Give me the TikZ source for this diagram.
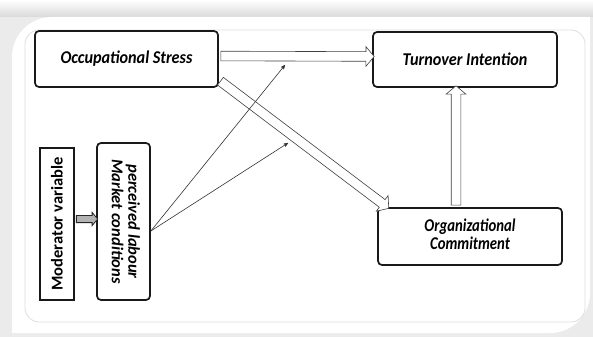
\documentclass[tikz,border=0pt]{standalone}
\usepackage{fontspec}
\setmainfont{Carlito}
\usepackage{graphicx}
\usetikzlibrary{arrows,positioning,shapes,calc}
\newcommand{\narrow}[2]{\scalebox{#1}[1]{#2}}

\begin{document}
\begin{tikzpicture}[x=1pt,y=-1pt,>=stealth',thick,
  main node/.style={draw=black!90,line width=1.7pt,rounded corners=4pt,fill=white,align=center},
  side node/.style={draw=black!90,line width=1.7pt,fill=white,align=center},
  block arrow/.style={single arrow,draw=black!75,fill=white,line width=0.6pt,inner sep=4.5pt,single arrow head extend=5pt,single arrow tip angle=100,anchor=center},
  hollow/.style={to path={let \p1=(\tikztostart),\p2=(\tikztotarget),\n1={atan2(\y2-\y1,\x2-\x1)},\n2={veclen(\x2-\x1,\y2-\y1)} in node[block arrow,#1,minimum height=\n2,rotate=\n1] at ($(\p1)!0.5!(\p2)$) {}}},
  hollow/.default={}]
% frame
\fill[gray!16] (0,0) rectangle (593,337);
\shade[top color=white,bottom color=gray!30] (0,0) rectangle (593,17);
\fill[white] (12,333) -- (12,57) arc[start angle=180,end angle=270,radius=40] -- (590,17) -- (590,293) arc[start angle=0,end angle=90,radius=40] -- cycle;
\draw[gray!25,line width=0.8pt,rounded corners=14pt] (25,30) rectangle (585,322);
% boxes
\node[main node,minimum width=183,minimum height=56,font=\fontsize{18}{19}\selectfont\bfseries\itshape] (os) at (126.5,59) {\narrow{0.9}{Occupational Stress}};
\node[main node,minimum width=184,minimum height=55,font=\fontsize{18}{19}\selectfont\bfseries\itshape] (ti) at (465,59.5) {\narrow{0.9}{Turnover Intention}};
\node[main node,minimum width=184,minimum height=57,font=\fontsize{18}{18}\selectfont\bfseries\itshape] (oc) at (470,236.5) {\narrow{0.82}{\begin{tabular}{@{}c@{}}Organizational\\Commitment\end{tabular}}};
\node[side node,minimum width=34,minimum height=152,font=\fontsize{16.5}{16.5}\selectfont\bfseries] (mv) at (57,224) {\rotatebox{90}{Moderator variable}};
\node[main node,minimum width=53,minimum height=157,font=\fontsize{16.5}{16}\selectfont\bfseries\itshape] (pl) at (123.5,221.5) {\rotatebox{-90}{\begin{tabular}{@{}c@{}}perceived labour\\Market conditions\end{tabular}}};
\coordinate (m1) at (285,65);
\coordinate (m2) at (288,143);
\coordinate (cu) at ([xshift=-14pt]oc.north);
% links
\draw[hollow] ([yshift=3pt]os.east) to ([yshift=3pt]ti.west);
\draw[hollow] ([yshift=-21pt]os.east) to ([xshift=10pt]oc.north west);
\draw[hollow] (cu) to (cu |- ti.south);
\draw[hollow={fill=gray!60,draw=black!85,line width=0.8pt,inner sep=3.2pt,single arrow head extend=3pt}] ([yshift=5pt]mv.east) to ([yshift=5pt]mv.east -| pl.west);
\draw[->,line width=0.6pt,black!80] ([yshift=-9.5pt]pl.east) -- (m1);
\draw[->,line width=0.6pt,black!80] ([yshift=-9.5pt]pl.east) -- (m2);
\end{tikzpicture}
\end{document}
